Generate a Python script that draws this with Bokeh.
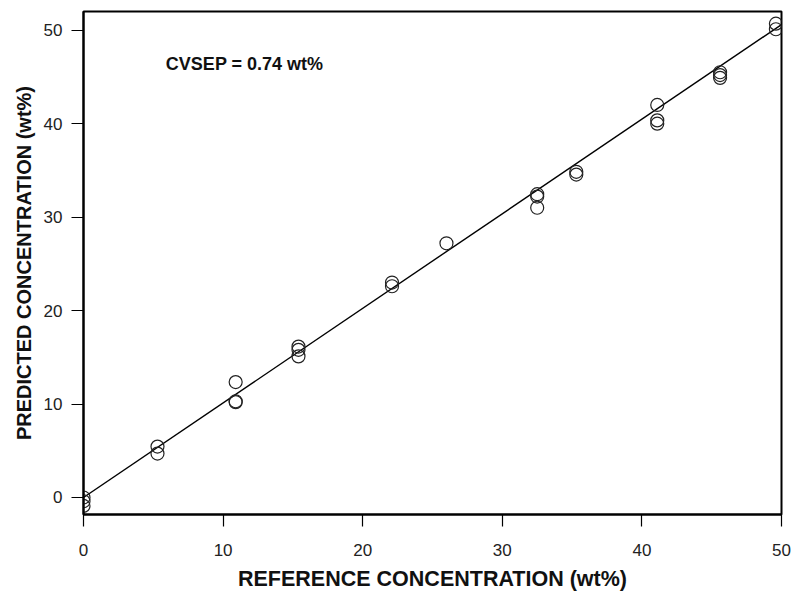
from bokeh.plotting import figure
from bokeh.models import Range1d, FixedTicker, Label
from bokeh.embed import file_html
from bokeh.resources import INLINE

# Reference vs predicted concentrations (wt%)
reference = [0.0, 0.0, 0.0,
             5.3, 5.3,
             10.9, 10.9, 10.9,
             15.4, 15.4, 15.4,
             22.1, 22.1,
             26.0,
             32.5, 32.5, 32.5,
             35.3, 35.3,
             41.1, 41.1, 41.1,
             45.6, 45.6, 45.6,
             49.6, 49.6]
predicted = [0.0, -0.4, -0.9,
             5.45, 4.7,
             12.35, 10.3, 10.2,
             16.15, 15.8, 15.1,
             23.0, 22.6,
             27.2,
             32.45, 32.2, 31.0,
             34.85, 34.55,
             42.0, 40.35, 40.0,
             45.5, 45.2, 44.9,
             50.7, 50.1]

fit_intercept = 0.0
fit_slope = 1.012
fit_x = [0.0, 50.0]
fit_y = [fit_intercept + fit_slope * v for v in fit_x]

x_ticks = [0, 10, 20, 30, 40, 50]
y_ticks = [0, 10, 20, 30, 40, 50]
annotation = "CVSEP = 0.74 wt%"

p = figure(width=791, height=594, output_backend="svg", toolbar_location=None,
           x_range=Range1d(0, 50), y_range=Range1d(-1.82, 52.0),
           min_border_left=83, min_border_right=10, min_border_top=11,
           min_border_bottom=80)

p.grid.visible = False
p.outline_line_color = "black"
p.outline_line_width = 2
p.background_fill_color = "white"
p.border_fill_color = "white"

FONT = "Liberation Sans"
for ax in (p.xaxis[0], p.yaxis[0]):
    ax.axis_line_color = "black"
    ax.axis_line_width = 2
    ax.major_tick_in = 0
    ax.major_tick_out = 12
    ax.major_tick_line_width = 1.2
    ax.minor_tick_line_color = None
    ax.major_label_text_font = FONT
    ax.major_label_text_font_size = "17px"
    ax.major_label_text_color = "#222222"
    ax.axis_label_text_font = FONT
    ax.axis_label_text_font_style = "bold"
    ax.axis_label_text_color = "#111111"

p.xaxis.axis_label_text_font_size = "21.5px"
p.yaxis.axis_label_text_font_size = "20px"
p.xaxis.ticker = FixedTicker(ticks=x_ticks)
p.yaxis.ticker = FixedTicker(ticks=y_ticks)
p.xaxis.axis_label = "REFERENCE CONCENTRATION (wt%)"
p.yaxis.axis_label = "PREDICTED CONCENTRATION (wt%)"
p.xaxis.major_label_standoff = 17
p.yaxis.major_label_standoff = 9
p.xaxis.axis_label_standoff = 8
p.yaxis.axis_label_standoff = 6
p.yaxis.major_label_orientation = "horizontal"

p.line(fit_x, fit_y, line_color="black", line_width=1.4)
p.scatter(reference, predicted, marker="circle", size=13,
          fill_color=None, line_color="#222222", line_width=1.2)

p.add_layout(Label(x=5.9, y=46.4, text=annotation, text_font=FONT,
                   text_font_style="bold", text_font_size="18px",
                   text_color="#111111", text_baseline="middle"))

open("out.html", "w").write(file_html(p, INLINE))
